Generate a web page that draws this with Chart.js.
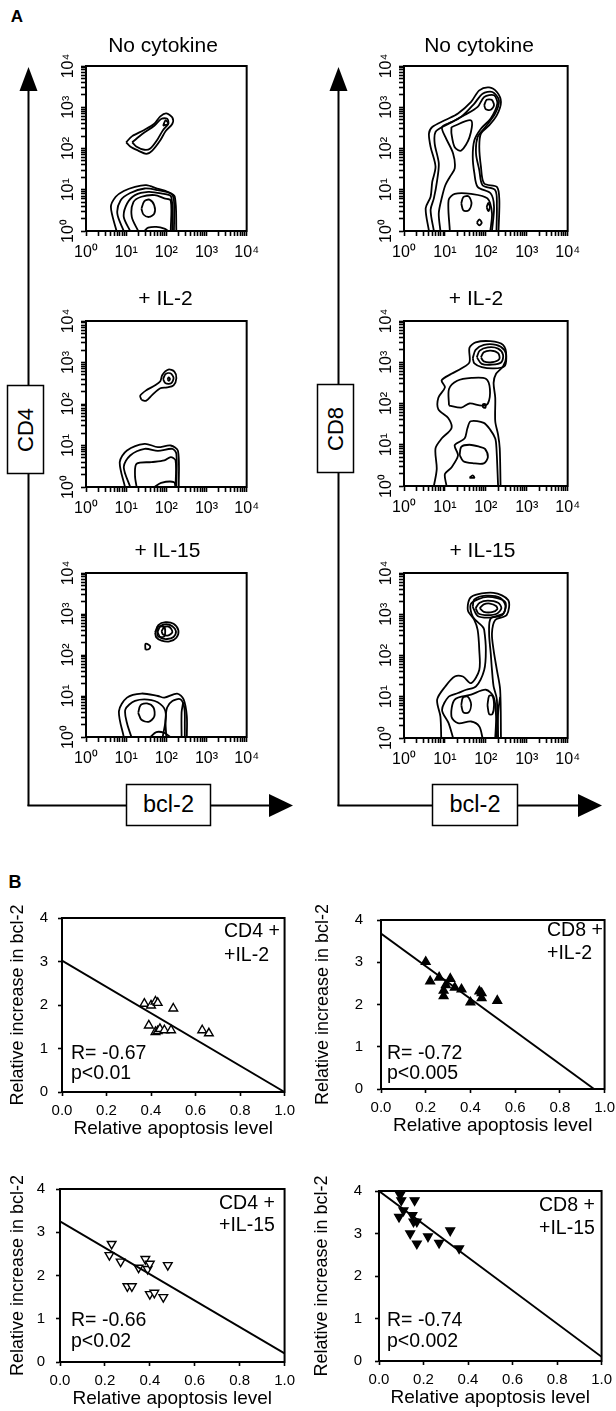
<!DOCTYPE html>
<html>
<head>
<meta charset="utf-8">
<script src="https://cdn.jsdelivr.net/npm/chart.js@4.4.1/dist/chart.umd.min.js"></script>
<style>
html, body { margin: 0; padding: 0; overflow: hidden; background: #fff; }
body { width: 616px; height: 1411px; position: relative; font-family: 'Liberation Sans', Arial, Helvetica, sans-serif; color: #000; }
canvas { position: absolute; }
.t { position: absolute; white-space: nowrap; line-height: 1; }
.c { transform: translate(-50%, -50%); }
.l { transform: translateY(-50%); }
.r { transform: translate(-50%, -50%) rotate(-90deg); }
</style>
</head>
<body>
<svg width="616" height="1411" style="position:absolute;left:0;top:0">
  <g stroke="#000" stroke-width="2" fill="none">
    <line x1="28.5" y1="88" x2="28.5" y2="806"/>
    <line x1="27.5" y1="805.5" x2="272" y2="805.5"/>
    <line x1="338.5" y1="88" x2="338.5" y2="806"/>
    <line x1="337.5" y1="805.5" x2="581" y2="805.5"/>
  </g>
  <g fill="#000">
    <polygon points="28.5,67 19.5,91 37.5,91"/>
    <polygon points="338.5,67 329.5,91 347.5,91"/>
    <polygon points="293,805.5 269,794 269,817"/>
    <polygon points="602,805.5 578,794 578,817"/>
  </g>
  <g fill="#fff" stroke="#000" stroke-width="1.5">
    <rect x="7.5" y="385.5" width="36" height="88"/>
    <rect x="317.5" y="384.5" width="36" height="88"/>
    <rect x="126.5" y="784.5" width="84" height="41"/>
    <rect x="432.5" y="784.5" width="85" height="41"/>
  </g>
</svg>
<script>
// ---- panel A: contour rings, [log10 bcl-2, log10 CD4/CD8] ----
const cd4None = [
  [[1.0,2.15],[1.15,2.3],[1.45,2.45],[1.7,2.6],[1.85,2.78],[2.0,2.85],[2.15,2.75],[2.15,2.6],[1.98,2.42],[1.85,2.2],[1.65,1.95],[1.5,1.87],[1.3,1.95],[1.1,2.05],[1.0,2.15]],
  [[1.15,2.15],[1.4,2.35],[1.7,2.55],[1.88,2.72],[2.02,2.72],[2.05,2.6],[1.92,2.45],[1.78,2.22],[1.6,2.0],[1.45,1.97],[1.25,2.05],[1.15,2.15]],
  [[1.92,2.55],[1.98,2.68],[2.05,2.6],[1.92,2.55]],
  [[0.76,0],[0.62,0.58],[0.74,0.83],[0.94,0.97],[1.22,1.07],[1.5,1.11],[1.77,1.03],[2.03,0.95],[2.21,0.83],[2.25,0]],
  [[0.94,0],[0.78,0.42],[0.86,0.74],[1.1,0.92],[1.46,1.03],[1.79,0.99],[2.11,0.91],[2.19,0.74],[2.19,0]],
  [[1.1,0],[0.94,0.34],[1.02,0.66],[1.22,0.87],[1.55,0.95],[1.87,0.91],[2.12,0.83],[2.15,0]],
  [[1.3,0],[1.14,0.34],[1.18,0.7],[1.38,0.83],[1.71,0.87],[1.95,0.79],[2.11,0.74],[2.11,0]],
  [[1.38,0.54],[1.45,0.72],[1.58,0.76],[1.7,0.62],[1.7,0.42],[1.57,0.34],[1.43,0.4],[1.38,0.54]],
  [[1.45,0],[1.55,0.08],[1.75,0.1],[1.95,0.06],[2.05,0]]
];
const cd8None = [
  [[0.61,0],[0.53,0.55],[0.65,0.83],[0.69,1.19],[0.77,1.56],[0.65,2.04],[0.61,2.36],[0.69,2.52],[1.01,2.69],[1.32,2.85],[1.64,3.13],[1.84,3.41],[2.08,3.48],[2.27,3.37],[2.37,3.13],[2.27,2.81],[2.08,2.56],[1.88,2.36],[1.84,2.04],[1.88,1.56],[1.96,1.15],[2.27,1.07],[2.33,0.75],[2.31,0]],
  [[0.73,0],[0.65,0.51],[0.73,0.79],[0.81,1.23],[0.85,1.64],[0.75,2.12],[0.77,2.4],[1.01,2.56],[1.4,2.77],[1.72,3.09],[1.92,3.33],[2.16,3.37],[2.32,3.17],[2.23,2.85],[1.99,2.52],[1.8,2.28],[1.76,1.88],[1.84,1.48],[1.92,1.11],[2.23,0.99],[2.27,0.59],[2.26,0]],
  [[0.89,0],[0.85,0.43],[0.93,0.83],[1.01,1.11],[1.12,1.31],[1.24,1.52],[1.2,1.88],[1.01,2.28],[0.93,2.52],[1.16,2.64],[1.48,2.81],[1.8,3.01],[1.96,3.25],[2.2,3.29],[2.28,3.09],[2.12,2.73],[1.88,2.48],[1.72,2.2],[1.68,1.8],[1.72,1.4],[1.8,1.07],[2.12,0.91],[2.2,0.59],[2.15,0]],
  [[1.16,2.52],[1.64,2.68],[1.6,2.27],[1.4,1.95],[1.24,2.03],[1.16,2.36],[1.16,2.52]],
  [[1.96,3.05],[2.02,3.18],[2.14,3.18],[2.2,3.05],[2.12,2.94],[2.0,2.95],[1.96,3.05]],
  [[1.12,0],[1.09,0.75],[1.24,0.9],[1.64,0.9],[2.04,0.79],[2.15,0.43],[2.11,0]],
  [[1.4,0.67],[1.45,0.82],[1.58,0.84],[1.65,0.67],[1.58,0.5],[1.45,0.5],[1.4,0.67]],
  [[2.02,0.58],[2.06,0.68],[2.1,0.58],[2.06,0.48],[2.02,0.58]],
  [[1.78,0.2],[1.84,0.28],[1.9,0.2],[1.84,0.14],[1.78,0.2]]
];
const cd4Il2 = [
  [[1.38,2.1],[1.35,2.2],[1.5,2.33],[1.72,2.45],[1.85,2.55],[1.9,2.7],[2.05,2.83],[2.2,2.78],[2.25,2.62],[2.18,2.45],[2.02,2.4],[1.85,2.38],[1.65,2.22],[1.5,2.08],[1.38,2.1]],
  [[1.92,2.6],[1.98,2.72],[2.1,2.74],[2.18,2.63],[2.12,2.5],[1.98,2.5],[1.92,2.6]],
  [[2.03,2.6],[2.06,2.64],[2.09,2.6],[2.06,2.56],[2.03,2.6]],
  [[0.97,0],[0.84,0.6],[1.02,0.88],[1.46,1.04],[1.79,0.96],[2.11,1.0],[2.29,0.87],[2.31,0]],
  [[1.1,0],[0.94,0.48],[1.1,0.76],[1.46,0.92],[1.79,0.87],[2.15,0.92],[2.25,0.8],[2.25,0]],
  [[1.26,0],[1.22,0.28],[1.26,0.56],[1.63,0.6],[1.95,0.64],[2.11,0.72],[2.23,0.64],[2.23,0]],
  [[1.71,0],[1.87,0.1],[2.19,0.12],[2.23,0]]
];
const cd8Il2 = [
  [[0.73,0],[0.8,0.41],[0.77,0.91],[0.92,1.15],[1.16,1.4],[1.08,1.65],[0.84,1.86],[0.84,2.14],[1.0,2.39],[0.92,2.56],[1.16,2.72],[1.4,2.85],[1.6,3.0],[1.6,3.35],[1.75,3.48],[2.11,3.51],[2.42,3.42],[2.5,3.15],[2.42,2.9],[2.25,2.72],[2.19,2.5],[2.23,2.14],[2.23,1.57],[2.3,1.24],[2.34,0.91],[2.36,0]],
  [[1.04,0],[1.0,0.29],[1.16,0.45],[1.32,0.74],[1.24,0.99],[1.48,1.15],[1.55,1.4],[1.63,1.57],[1.95,1.53],[2.11,1.36],[2.23,1.15],[2.26,0.91],[2.3,0]],
  [[1.36,0.75],[1.4,0.95],[1.6,1.0],[1.85,0.95],[1.98,0.9],[2.05,0.7],[1.95,0.55],[1.7,0.55],[1.45,0.6],[1.36,0.75]],
  [[1.1,1.95],[1.1,2.35],[1.3,2.55],[1.65,2.62],[2.0,2.6],[2.1,2.35],[2.05,2.0],[1.9,1.95],[1.6,2.0],[1.4,1.9],[1.1,1.95]],
  [[1.68,3.1],[1.75,3.3],[1.95,3.42],[2.25,3.42],[2.45,3.3],[2.5,3.1],[2.45,2.9],[2.2,2.85],[1.9,2.88],[1.72,2.97],[1.68,3.1]],
  [[1.78,3.12],[1.85,3.28],[2.05,3.36],[2.3,3.33],[2.42,3.18],[2.38,3.0],[2.15,2.94],[1.9,2.96],[1.78,3.12]],
  [[1.88,3.12],[1.95,3.24],[2.12,3.28],[2.3,3.22],[2.33,3.08],[2.15,3.0],[1.95,3.02],[1.88,3.12]],
  [[1.93,1.9],[1.99,1.9],[1.99,1.98],[1.93,1.98],[1.93,1.9]],
  [[1.6,0.2],[1.68,0.26],[1.72,0.2],[1.6,0.2]]
];
const cd4Il15 = [
  [[1.72,2.55],[1.8,2.73],[1.98,2.8],[2.18,2.76],[2.3,2.6],[2.25,2.42],[2.08,2.33],[1.88,2.35],[1.75,2.43],[1.72,2.55]],
  [[1.78,2.56],[1.85,2.7],[2.0,2.75],[2.15,2.7],[2.24,2.58],[2.18,2.44],[2.02,2.39],[1.86,2.42],[1.78,2.56]],
  [[1.78,2.45],[1.78,2.68],[1.95,2.68],[1.95,2.45],[1.78,2.45]],
  [[1.88,2.58],[1.95,2.68],[2.08,2.68],[2.15,2.56],[2.05,2.48],[1.92,2.5],[1.88,2.58]],
  [[1.48,2.13],[1.48,2.27],[1.56,2.25],[1.6,2.2],[1.56,2.14],[1.48,2.13]],
  [[0.94,0],[0.82,0.63],[1.02,0.96],[1.38,1.06],[1.79,1.0],[1.95,0.96],[2.27,1.06],[2.43,0.92],[2.51,0.51],[2.51,0]],
  [[1.13,0],[1.02,0.34],[0.98,0.67],[1.22,0.88],[1.63,0.9],[1.91,0.75],[1.99,0.51],[1.91,0]],
  [[1.3,0.59],[1.36,0.78],[1.52,0.82],[1.68,0.72],[1.7,0.5],[1.56,0.37],[1.38,0.42],[1.3,0.59]],
  [[2.0,0],[1.98,0.4],[2.02,0.72],[2.15,0.88],[2.35,0.92],[2.45,0.7],[2.46,0.3],[2.46,0]],
  [[2.38,0],[2.38,0.6],[2.42,0.85]],
  [[1.6,0],[1.75,0.12],[1.95,0.1],[2.1,0]]
];
const cd8Il15 = [
  [[0.91,0],[0.89,0.52],[0.81,0.93],[1.01,1.25],[1.24,1.49],[1.44,1.49],[1.64,1.33],[1.84,1.65],[1.84,2.13],[1.8,2.62],[1.72,2.86],[1.56,3.1],[1.64,3.42],[2.19,3.52],[2.55,3.34],[2.51,2.98],[2.23,2.86],[2.15,2.54],[2.19,2.13],[2.27,1.65],[2.35,1.17],[2.37,0]],
  [[1.2,0],[1.09,0.36],[0.93,0.68],[1.09,1.0],[1.32,1.09],[1.52,1.17],[1.76,1.25],[1.96,1.65],[2.0,2.13],[1.96,2.62],[1.92,2.7],[1.68,2.94],[1.64,3.26],[2.04,3.42],[2.47,3.3],[2.43,3.02],[2.12,2.9],[2.08,2.54],[2.12,2.05],[2.15,1.65],[2.19,1.25],[2.27,0.93],[2.27,0]],
  [[1.92,0],[1.84,0.28],[1.64,0.4],[1.32,0.36],[1.16,0.52],[1.24,0.93],[1.64,1.05],[2.0,1.17],[2.19,1.0],[2.25,0.52],[2.23,0]],
  [[1.4,0.8],[1.44,0.98],[1.56,1.0],[1.64,0.82],[1.58,0.62],[1.45,0.62],[1.4,0.8]],
  [[2.04,0.8],[2.08,1.02],[2.16,1.02],[2.2,0.8],[2.16,0.58],[2.08,0.58],[2.04,0.8]],
  [[1.68,3.18],[1.72,3.36],[2.0,3.45],[2.35,3.4],[2.48,3.2],[2.4,2.98],[2.1,2.92],[1.8,2.96],[1.68,3.18]],
  [[1.75,3.15],[1.85,3.28],[2.05,3.33],[2.3,3.28],[2.38,3.15],[2.28,3.02],[2.05,2.98],[1.82,3.02],[1.75,3.15]],
  [[1.85,3.15],[1.95,3.24],[2.1,3.26],[2.25,3.2],[2.28,3.12],[2.15,3.05],[1.95,3.06],[1.85,3.15]],
  [[2.3,0],[2.3,0.6],[2.35,1.0]]
];
const decadeValues = [1, 10, 100, 1000, 10000];
const decadeLabels = ['10\u2070', '10\u00b9', '10\u00b2', '10\u00b3', '10\u2074'];

// ---- panel B: relative apoptosis vs relative bcl-2 increase ----
const cd4Il2Apop = [0.37, 0.40, 0.42, 0.43, 0.50, 0.39, 0.42, 0.43, 0.44, 0.46, 0.49, 0.63, 0.66];
const cd4Il2Bcl = [2.03, 1.99, 2.08, 2.05, 1.92, 1.53, 1.38, 1.40, 1.45, 1.42, 1.42, 1.42, 1.35];
const cd4Il2Fit = [[0, 3.02], [1, 0]];
const cd8Il2Apop = [0.20, 0.22, 0.26, 0.31, 0.29, 0.28, 0.28, 0.33, 0.36, 0.40, 0.44, 0.45, 0.45, 0.52];
const cd8Il2Bcl = [3.01, 2.55, 2.64, 2.61, 2.46, 2.33, 2.20, 2.40, 2.36, 2.05, 2.31, 2.27, 2.15, 2.09];
const cd8Il2Fit = [[0, 3.68], [0.953, 0]];
const cd4Il15Apop = [0.23, 0.22, 0.27, 0.30, 0.32, 0.35, 0.38, 0.39, 0.40, 0.40, 0.42, 0.46, 0.48];
const cd4Il15Bcl = [2.73, 2.47, 2.32, 1.75, 1.75, 2.18, 2.38, 2.15, 2.27, 1.57, 1.60, 1.50, 2.24];
const cd4Il15Fit = [[0, 3.25], [1, 0.2]];
const cd8Il15Apop = [0.095, 0.10, 0.16, 0.09, 0.11, 0.15, 0.155, 0.17, 0.14, 0.17, 0.22, 0.27, 0.32, 0.36];
const cd8Il15Bcl = [3.91, 3.78, 3.78, 3.39, 3.54, 3.43, 3.28, 3.28, 3.00, 2.76, 2.93, 2.78, 3.07, 2.65];
const cd8Il15Fit = [[0, 4.0], [1, 0.1]];

Chart.defaults.font.family = "'Liberation Sans', Arial, Helvetica, sans-serif";
Chart.defaults.color = '#000';

// tick marks at 1..9 x each decade
const logTickValues = [];
for (const d of [1, 10, 100, 1000]) for (let k = 1; k < 10; k++) logTickValues.push(k * d);
logTickValues.push(10000);

const framePlugin = {
  id: 'frame',
  afterDatasetsDraw(chart) {
    const a = chart.chartArea, ctx = chart.ctx;
    ctx.save();
    ctx.strokeStyle = '#000';
    ctx.lineWidth = 2;
    ctx.strokeRect(a.left, a.top, a.right - a.left, a.bottom - a.top);
    ctx.restore();
  }
};

function makeCanvas(x, y, w, h) {
  const cv = document.createElement('canvas');
  cv.width = w; cv.height = h;
  cv.style.left = x + 'px'; cv.style.top = y + 'px';
  cv.style.width = w + 'px'; cv.style.height = h + 'px';
  document.body.appendChild(cv);
  return cv;
}

function text(str, x, y, size, cls, bold) {
  const d = document.createElement('div');
  d.className = 't ' + cls;
  d.textContent = str;
  d.style.left = x + 'px'; d.style.top = y + 'px';
  d.style.fontSize = size + 'px';
  if (bold) d.style.fontWeight = 'bold';
  document.body.appendChild(d);
}

function logAxis(vertical, size) {
  return {
    type: 'logarithmic', min: 1, max: 10000,
    afterBuildTicks: s => { s.ticks = logTickValues.map(v => ({ value: v })); },
    afterFit: s => { if (vertical) s.width = size; else s.height = size; },
    grid: { drawOnChartArea: false, tickLength: 5, tickWidth: 1.6, color: '#000' },
    border: { color: '#000', width: 2 },
    ticks: {
      autoSkip: false, color: '#000', font: { size: 16 },
      padding: vertical ? 0 : 7,
      minRotation: vertical ? 90 : 0, maxRotation: vertical ? 90 : 0,
      crossAlign: vertical ? 'center' : 'near',
      callback: v => { const i = decadeValues.indexOf(v); return i < 0 ? '' : decadeLabels[i]; }
    }
  };
}

function contourChart(box, rings) {
  const padL = 46, padT = 14, padR = 14, padB = 34;
  const cv = makeCanvas(box[0] - padL, box[1] - padT, box[2] + padL + padR, box[3] + padT + padB);
  new Chart(cv, {
    type: 'scatter',
    data: {
      datasets: rings.map(r => ({
        data: r.map(p => ({ x: Math.pow(10, p[0]), y: Math.pow(10, p[1]) })),
        showLine: true, pointRadius: 0, borderColor: '#000', borderWidth: 1.8, tension: 0.3
      }))
    },
    options: {
      responsive: false, animation: false, events: [],
      layout: { padding: { left: 0, top: padT, right: padR, bottom: 0 } },
      plugins: { legend: { display: false }, tooltip: { enabled: false } },
      scales: { x: logAxis(false, padB), y: logAxis(true, padL) }
    },
    plugins: [framePlugin]
  });
}

function scatterChart(box, apop, bcl, fit, filled, down, tickPad, titleOff) {
  const padL = titleOff + 14, padT = 12, padR = 14, padB = 50;
  const cv = makeCanvas(box[0] - padL, box[1] - padT, box[2] + padL + padR, box[3] + padT + padB);
  const axisGrid = { drawOnChartArea: false, tickLength: 4, tickWidth: 1.6, color: '#000' };
  new Chart(cv, {
    type: 'scatter',
    data: {
      datasets: [
        { data: fit.map(p => ({ x: p[0], y: p[1] })), showLine: true, pointRadius: 0, borderColor: '#000', borderWidth: 1.9 },
        { data: apop.map((v, i) => ({ x: v, y: bcl[i] })), pointStyle: 'triangle', rotation: down ? 180 : 0,
          pointRadius: 5, backgroundColor: filled ? '#000' : '#fff', borderColor: '#000', borderWidth: 1.4, clip: false }
      ]
    },
    options: {
      responsive: false, animation: false, events: [],
      layout: { padding: { left: 0, top: padT, right: padR, bottom: 0 } },
      plugins: { legend: { display: false }, tooltip: { enabled: false } },
      scales: {
        x: {
          type: 'linear', min: 0, max: 1,
          afterFit: s => { s.height = padB; },
          grid: axisGrid, border: { color: '#000', width: 2 },
          ticks: { stepSize: 0.2, padding: 6, maxRotation: 0, font: { size: 15 }, callback: v => v.toFixed(1) },
          title: { display: true, text: 'Relative apoptosis level', font: { size: 19 }, padding: { top: 0, bottom: 1.6 } }
        },
        y: {
          type: 'linear', min: 0, max: 4,
          afterFit: s => { s.width = padL; },
          grid: axisGrid, border: { color: '#000', width: 2 },
          ticks: { stepSize: 1, padding: tickPad, font: { size: 15 } },
          title: { display: true, text: 'Relative increase in bcl-2', font: { size: 18 }, padding: { top: padL - titleOff - 10.8, bottom: 0 } }
        }
      }
    },
    plugins: [framePlugin]
  });
}

contourChart([86, 66, 166, 165], cd4None);
contourChart([404, 66, 169, 165], cd8None);
contourChart([86, 321, 166, 166], cd4Il2);
contourChart([404, 321, 169, 165], cd8Il2);
contourChart([86, 573, 166, 164], cd4Il15);
contourChart([404, 573, 169, 165], cd8Il15);

scatterChart([62, 911, 225, 181], cd4Il2Apop, cd4Il2Bcl, cd4Il2Fit, false, false, 10, 44);
scatterChart([381, 909, 226, 180], cd8Il2Apop, cd8Il2Bcl, cd8Il2Fit, true, false, 14, 58);
scatterChart([60, 1181, 227, 181], cd4Il15Apop, cd4Il15Bcl, cd4Il15Fit, false, true, 11, 42);
scatterChart([379, 1181, 225, 180], cd8Il15Apop, cd8Il15Bcl, cd8Il15Fit, true, true, 13, 57);

// panel letters, titles, axis boxes
text('A', 17, 16, 17, 'c', true);
text('B', 15, 882, 18, 'c', true);
text('No cytokine', 163, 43.5, 21, 'c');
text('No cytokine', 479, 43.5, 21, 'c');
text('+ IL-2', 165.5, 296.5, 21, 'c');
text('+ IL-2', 476, 296.5, 21, 'c');
text('+ IL-15', 167.5, 548.5, 21, 'c');
text('+ IL-15', 482.5, 548.5, 21, 'c');
text('CD4', 25.5, 429.5, 22, 'r');
text('CD8', 335.5, 428.5, 22, 'r');
text('bcl-2', 168.5, 805, 23.5, 'c');
text('bcl-2', 475, 805, 23.5, 'c');

// panel B annotations
text('CD4 +', 224, 931, 19.5, 'l');
text('+IL-2', 224, 955, 19.5, 'l');
text('R= -0.67', 71, 1052.5, 19.5, 'l');
text('p<0.01', 71, 1073, 19.5, 'l');
text('CD8 +', 547, 930, 19.5, 'l');
text('+IL-2', 547, 953, 19.5, 'l');
text('R= -0.72', 387, 1052.5, 19.5, 'l');
text('p<0.005', 387, 1073, 19.5, 'l');
text('CD4 +', 219, 1203, 19.5, 'l');
text('+IL-15', 219, 1225, 19.5, 'l');
text('R= -0.66', 71, 1320, 19.5, 'l');
text('p<0.02', 71, 1341, 19.5, 'l');
text('CD8 +', 539, 1205, 19.5, 'l');
text('+IL-15', 539, 1228, 19.5, 'l');
text('R= -0.74', 387, 1320, 19.5, 'l');
text('p<0.002', 387, 1341, 19.5, 'l');
</script>
</body>
</html>
